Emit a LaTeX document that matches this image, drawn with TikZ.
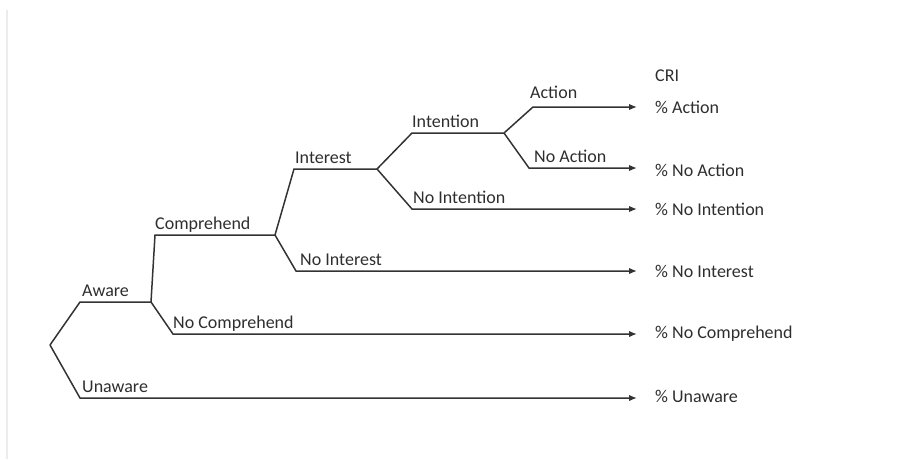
\documentclass[tikz,border=0pt]{standalone}
\usepackage{fontspec}
\setmainfont{Carlito}
\usetikzlibrary{arrows.meta}
\usetikzlibrary{positioning}

\definecolor{lineGray}{HTML}{333333}
\definecolor{textGray}{HTML}{2E2E2E}

\tikzset{
  branch/.style={draw=lineGray, line width=1.5pt, line join=miter},
  outarrow/.style={branch, -{Latex[length=8pt,width=6.5pt]}, shorten >=18pt},
  lbl/.style={anchor=base west, inner sep=0pt, text=textGray, font=\fontsize{18}{21}\selectfont},
  outcome/.style={anchor=west, inner sep=0pt, text=textGray, font=\fontsize{18}{21}\selectfont},
}

\begin{document}
\begin{tikzpicture}[x=1pt, y=-1pt]
  \useasboundingbox (0,0) rectangle (905,459);
  \draw[gray!15, line width=1.5pt] (7,10) -- (7,459);

  % branch points
  \coordinate (root) at (50,345);
  \coordinate (aware) at (151,302);
  \coordinate (compr) at (275,235);
  \coordinate (inter) at (377,169);
  \coordinate (inten) at (504,133);

  % corners
  \coordinate (c-aw) at (80,302);
  \coordinate (c-un) at (80,398);
  \coordinate (c-co) at (155,235);
  \coordinate (c-nc) at (173,334);
  \coordinate (c-in) at (294,169);
  \coordinate (c-ni) at (296,271);
  \coordinate (c-it) at (412,133);
  \coordinate (c-nt) at (412,209);
  \coordinate (c-ac) at (533,107);
  \coordinate (c-na) at (529,168);

  % outcomes
  \node[outcome] (cri) at (655,76) {CRI};
  \node[outcome] (o-ac) at (655,107) {\% Action};
  \node[outcome] (o-na) at (655,170) {\% No Action};
  \node[outcome] (o-nt) at (655,209) {\% No Intention};
  \node[outcome] (o-ni) at (655,271) {\% No Interest};
  \node[outcome] (o-nc) at (655,334) {\% No Comprehend};
  \node[outcome] (o-un) at (655,396) {\% Unaware};

  % tree
  \draw[branch] (root) -- (c-aw) -- (aware);
  \draw[outarrow] (root) -- (c-un) -- (o-un.west |- c-un);
  \draw[branch] (aware) -- (c-co) -- (compr);
  \draw[outarrow] (aware) -- (c-nc) -- (o-nc.west |- c-nc);
  \draw[branch] (compr) -- (c-in) -- (inter);
  \draw[outarrow] (compr) -- (c-ni) -- (o-ni.west |- c-ni);
  \draw[branch] (inter) -- (c-it) -- (inten);
  \draw[outarrow] (inter) -- (c-nt) -- (o-nt.west |- c-nt);
  \draw[outarrow] (inten) -- (c-ac) -- (o-ac.west |- c-ac);
  \draw[outarrow] (inten) -- (c-na) -- (o-na.west |- c-na);

  % labels
  \node[lbl] (l-aw) at ([xshift=2pt,yshift=6pt]c-aw) {Aware};
  \node[lbl] (l-un) at ([xshift=2pt,yshift=6pt]c-un) {Unaware};
  \node[lbl] (l-co) at ([xshift=0pt,yshift=6pt]c-co) {Comprehend};
  \node[lbl] (l-nc) at ([xshift=0pt,yshift=6pt]c-nc) {No Comprehend};
  \node[lbl] (l-in) at ([xshift=1pt,yshift=6pt]c-in) {Interest};
  \node[lbl] (l-ni) at ([xshift=4pt,yshift=6pt]c-ni) {No Interest};
  \node[lbl] (l-it) at ([xshift=0pt,yshift=6pt]c-it) {Intention};
  \node[lbl] (l-nt) at ([xshift=1pt,yshift=6pt]c-nt) {No Intention};
  \node[lbl] (l-ac) at ([xshift=-3pt,yshift=9pt]c-ac) {Action};
  \node[lbl] (l-na) at ([xshift=5pt,yshift=6pt]c-na) {No Action};
\end{tikzpicture}
\end{document}
